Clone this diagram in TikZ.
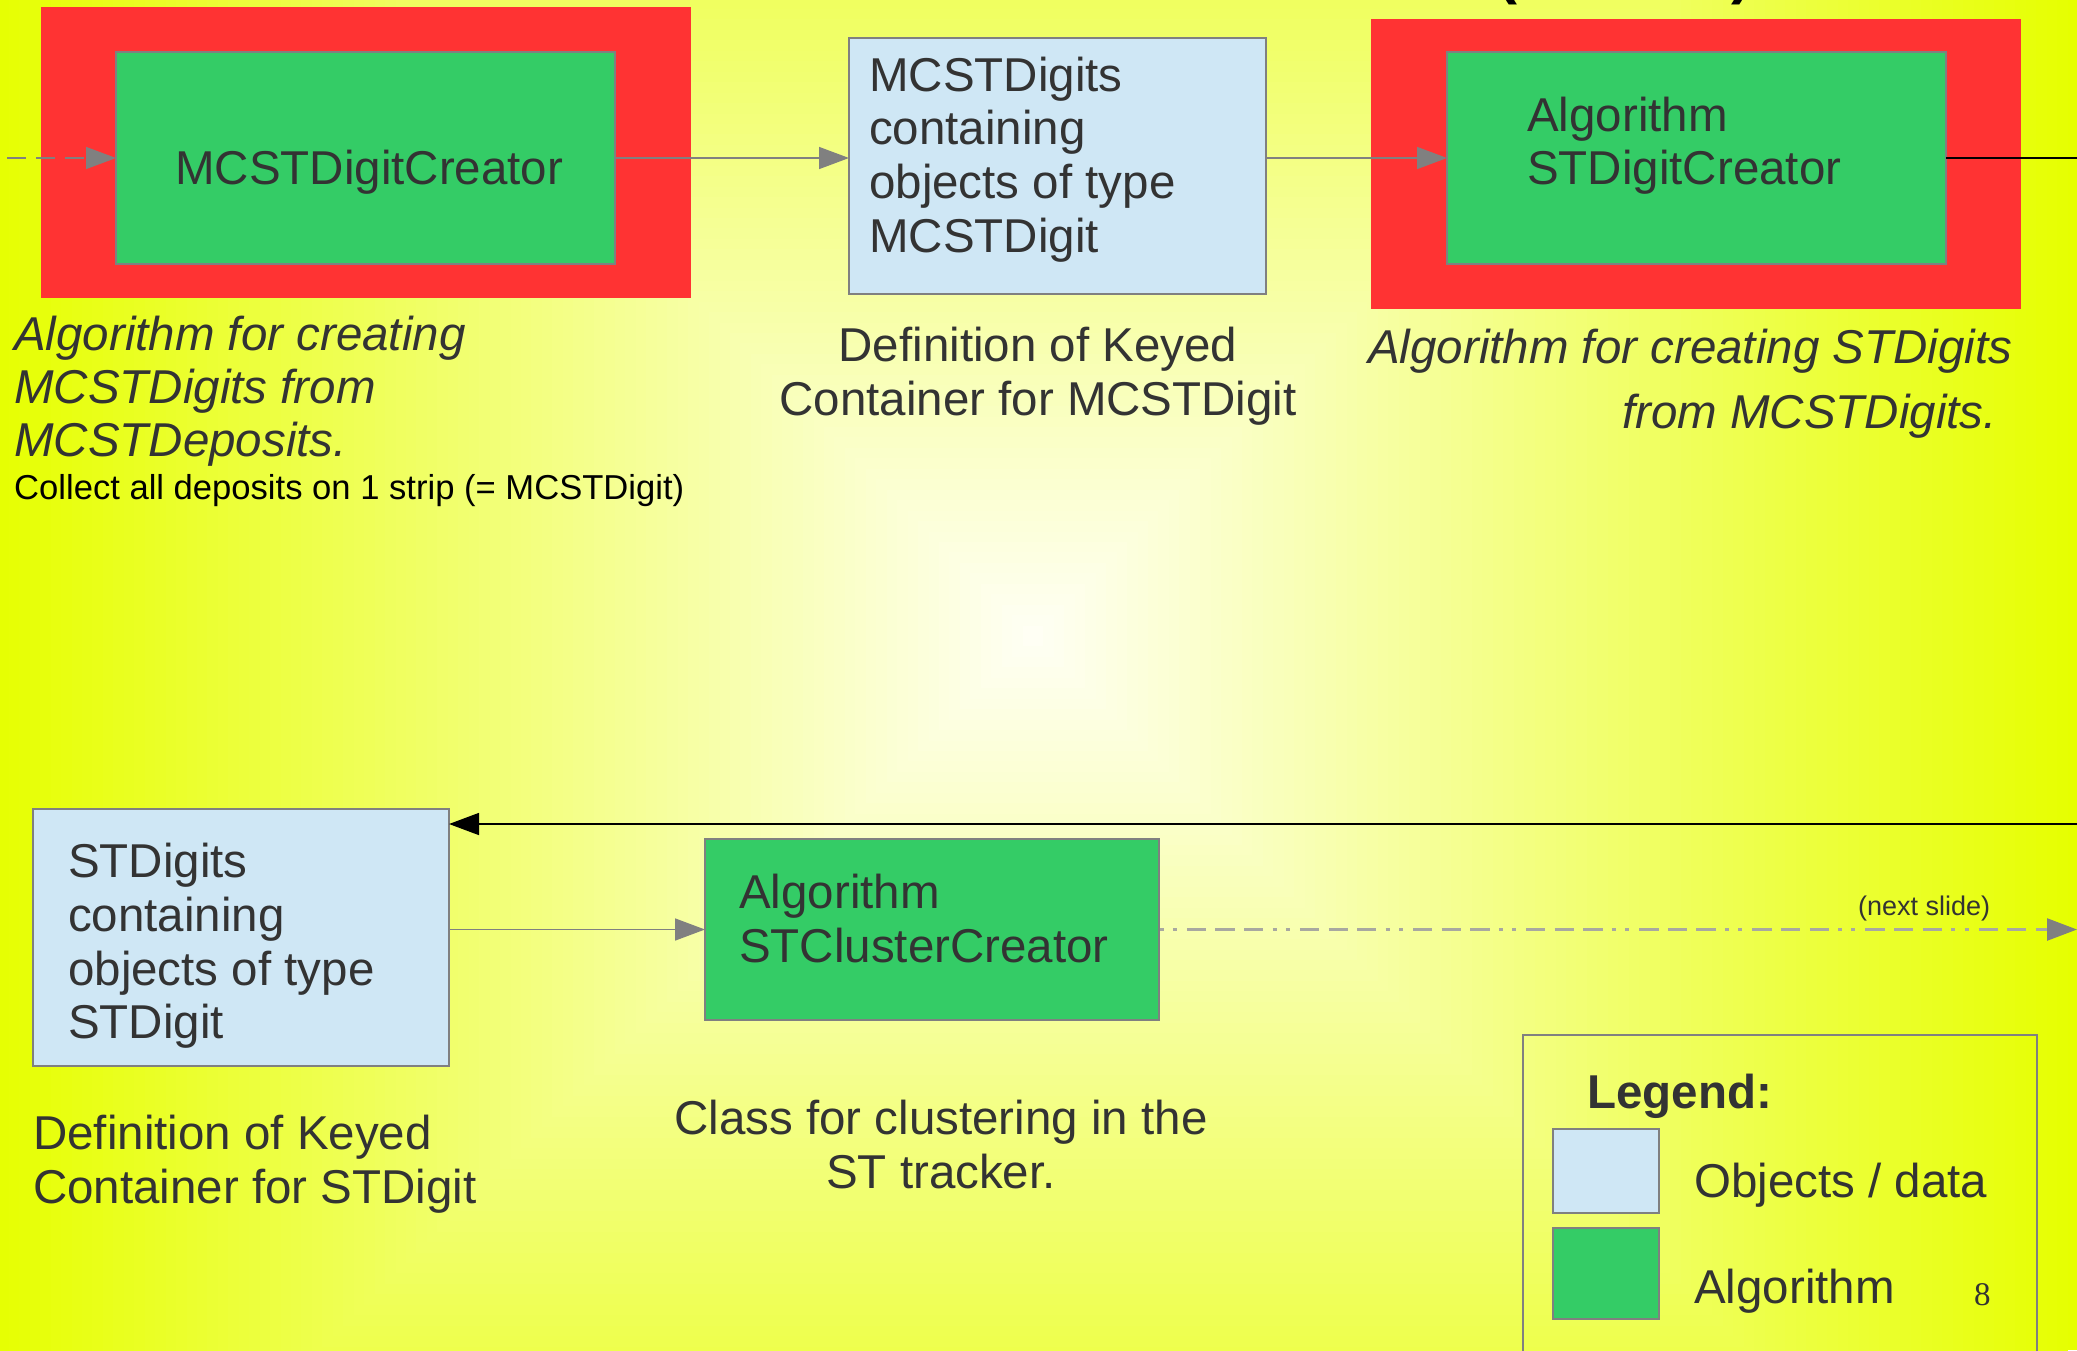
\documentclass[tikz,border=0pt]{standalone}
\usepackage{fontspec}
\setmainfont{Liberation Sans}
\newfontfamily\slidenum{Liberation Serif}
\usetikzlibrary{arrows.meta}
\definecolor{bgout}{HTML}{E6FF00}
\definecolor{bgin}{HTML}{FFFFF6}
\definecolor{redbox}{HTML}{FF3333}
\definecolor{greenbox}{HTML}{34CC66}
\definecolor{bluebox}{HTML}{CFE7F5}
\definecolor{txt}{HTML}{333333}
\definecolor{edge}{HTML}{808080}
\definecolor{dashgrey}{HTML}{A8A8A0}
\tikzset{
  frame/.style={rectangle, inner sep=0pt, outer sep=0pt},
  redframe/.style={frame, fill=redbox},
  algbox/.style={frame, fill=greenbox, draw=edge, line width=1.5pt},
  databox/.style={frame, fill=bluebox, draw=edge, line width=1.5pt},
  lbl/.style={anchor=base west, inner sep=0pt, text=txt, font=\fontsize{47.5}{54}\selectfont},
  lblc/.style={lbl, anchor=base},
  ilbl/.style={lbl, font=\fontsize{47.5}{54}\selectfont\itshape},
  flow/.style={draw=edge, line width=1.5pt, -{Triangle[length=30pt,width=22pt]}},
  blackflow/.style={draw=black, line width=1.5pt, -{Triangle[length=30pt,width=22pt]}},
}
\begin{document}
\begin{tikzpicture}[x=1pt,y=-1pt]
\useasboundingbox (0,0) rectangle (2077,1350);
\begin{scope}
  \clip (0,0) rectangle (2077,1350);
  \fill[bgout] (0,0) rectangle (2077,1350);
  \foreach \k in {1,...,100}{
    \pgfmathsetmacro{\rr}{1045*(1-\k/100)}
    \pgfmathsetmacro{\pp}{100-\k}
    \fill[bgout!\pp!bgin] ({1033-\rr},{636-\rr}) rectangle ({1033+\rr},{636+\rr});
  }
  % clipped title brackets at the top edge
  \node[anchor=base west, inner sep=0pt, font=\fontsize{60}{60}\selectfont\bfseries] (pl) at (1497,-8) {(};
  \node[anchor=base west, inner sep=0pt, font=\fontsize{60}{60}\selectfont\bfseries] (pr) at (1731,-8) {)};
  % legend frame (runs off the page)
  \node[frame, draw=edge, line width=1.5pt, minimum width=514pt, minimum height=325pt] (legend) at (1780,1197.5) {};
\end{scope}

% boxes
\node[redframe, minimum width=650pt, minimum height=291pt] (red1) at (366,152.5) {};
\node[algbox, minimum width=499pt, minimum height=212pt] (alg1) at (365.5,158) {};
\node[databox, minimum width=417pt, minimum height=256pt] (data1) at (1057.5,166) {};
\node[redframe, minimum width=650pt, minimum height=290pt] (red2) at (1696,164) {};
\node[algbox, minimum width=499pt, minimum height=212pt] (alg2) at (1696.5,158) {};
\node[databox, minimum width=416pt, minimum height=257pt] (data2) at (241,937.5) {};
\node[algbox, minimum width=454pt, minimum height=181pt] (alg3) at (932,929.5) {};
\node[databox, minimum width=106pt, minimum height=84pt] (sw1) at (1606,1171) {};
\node[algbox, minimum width=106pt, minimum height=91pt] (sw2) at (1606,1273.5) {};

% connectors
\coordinate (s0) at (7,158);
\coordinate (e1) at (2077,158);
\coordinate (e2) at (2077,824);
\coordinate (t2) at (data2.east |- e2);
\coordinate (e3) at (2077,929.5);
\draw[flow, dash pattern=on 19pt off 10pt] (s0) -- (alg1.west);
\draw[flow] (alg1.east) -- (data1.west |- alg1.east);
\draw[flow] (data1.east |- alg2.west) -- (alg2.west);
\draw[black, line width=1.5pt] (alg2.east) -- (e1);
\draw[blackflow] (e2) -- (t2);
\draw[flow] (data2.east |- alg3.west) -- (alg3.west);
\draw[draw=dashgrey, line width=2.5pt,
      dash pattern=on 19.3pt off 9.3pt on 19.3pt off 9.3pt on 19.3pt off 9.3pt on 4pt off 9.3pt on 4pt off 10pt,
      dash phase=85.3pt,
      -{Triangle[length=30pt,width=22pt,color=edge]}] (alg3.east) -- (e3);

% texts in boxes
\node[lbl] (t1) at (175,184) {MCSTDigitCreator};
\node[lbl] (d1a) at (869,91) {MCSTDigits};
\node[lbl] (d1b) at (869,144.7) {containing};
\node[lbl] (d1c) at (869,198.4) {objects of type};
\node[lbl] (d1d) at (869,252) {MCSTDigit};
\node[lbl] (a2a) at (1527,131) {Algorithm};
\node[lbl] (a2b) at (1527,184) {STDigitCreator};
\node[lbl] (d2a) at (68,877) {STDigits};
\node[lbl] (d2b) at (68,931) {containing};
\node[lbl] (d2c) at (68,985) {objects of type};
\node[lbl] (d2d) at (68,1038) {STDigit};
\node[lbl] (a3a) at (739,908) {Algorithm};
\node[lbl] (a3b) at (739,962) {STClusterCreator};

% captions
\node[ilbl] (c1a) at (14,350) {Algorithm for creating};
\node[ilbl] (c1b) at (14,403) {MCSTDigits from};
\node[ilbl] (c1c) at (14,456) {MCSTDeposits.};
\node[lbl, text=black, font=\fontsize{34.6}{40}\selectfont] (c1d) at (14,499) {Collect all deposits on 1 strip (= MCSTDigit)};
\node[lblc] (c2a) at (1038,361) {Definition of Keyed};
\node[lblc] (c2b) at (1038,415) {Container for MCSTDigit};
\node[ilbl] (c3a) at (1368,363) {Algorithm for creating STDigits};
\node[ilbl] (c3b) at (1622,428) {from MCSTDigits.};
\node[lbl] (c4a) at (33,1149) {Definition of Keyed};
\node[lbl] (c4b) at (33,1203) {Container for STDigit};
\node[lblc] (c5a) at (941,1134) {Class for clustering in the};
\node[lblc] (c5b) at (941,1188) {ST tracker.};
\node[lbl, font=\fontsize{27}{32}\selectfont] (ns) at (1858,915) {(next slide)};

% legend
\node[lbl, font=\fontsize{47.5}{54}\selectfont\bfseries] (lg) at (1587,1108) {Legend:};
\node[lbl] (lg1) at (1694,1197) {Objects / data};
\node[lbl] (lg2) at (1694,1303) {Algorithm};
\node[lbl, font=\fontsize{33}{38}\selectfont\slidenum] (pg) at (1974,1305) {8};
\end{tikzpicture}
\end{document}
